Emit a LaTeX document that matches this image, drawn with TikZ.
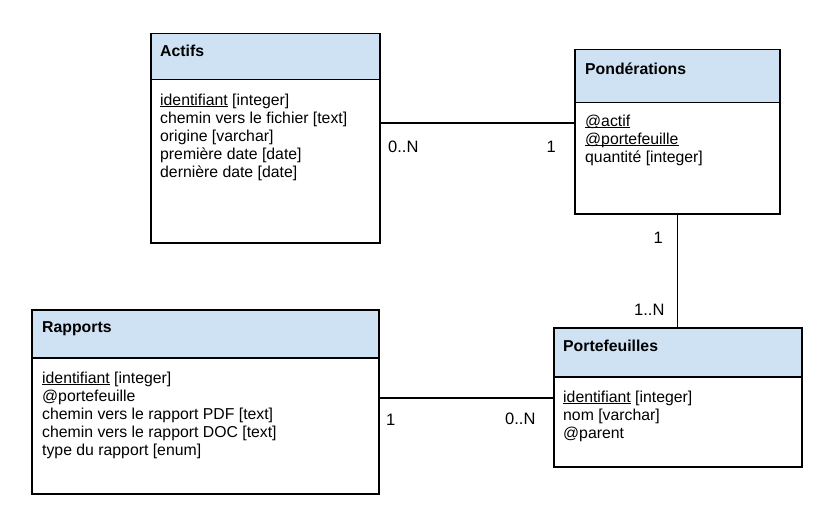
\documentclass[tikz,border=0pt]{standalone}
\usepackage{fontspec}
\setmainfont{Liberation Sans}
\usepackage{xcolor}
\usepackage{tikz}
\usetikzlibrary{positioning}

\definecolor{bleuentete}{HTML}{CFE2F3}
\newcommand{\souligne}[1]{\underline{\raisebox{0pt}[\height][0pt]{#1}}}

\tikzset{
  entete/.style={draw, line width=1.5pt, fill=bleuentete, anchor=north west, inner sep=0pt},
  corps/.style={draw, line width=1.5pt, fill=white, anchor=north west, inner sep=0pt},
  titre/.style={anchor=base west, inner sep=0pt, font=\bfseries\fontsize{15.8}{18}\selectfont},
  attrib/.style={anchor=north west, align=left, inner sep=0pt, font=\fontsize{15.8}{18}\selectfont},
  card/.style={inner sep=0pt, font=\fontsize{16.5}{19}\selectfont},
  lien/.style={line width=1.5pt}
}

\begin{document}
\begin{tikzpicture}[x=1pt, y=-1pt]
  \useasboundingbox (0,0) rectangle (840,524);

  % entity Actifs
  \node[entete, minimum width=229, minimum height=46] (actH) at (150,33) {};
  \node[corps, minimum width=229, minimum height=163] (actB) at (150,79) {};
  \node[titre] (actT) at (160,57) {Actifs};
  \node[attrib] (actA) at (160,93.5) {\souligne{identifiant} [integer]\\
    chemin vers le fichier [text]\\
    origine [varchar]\\
    première date [date]\\
    dernière date [date]};

  % entity Pondérations
  \node[entete, minimum width=205, minimum height=53] (ponH) at (574,49) {};
  \node[corps, minimum width=205, minimum height=111] (ponB) at (574,102) {};
  \node[titre] (ponT) at (585,75) {Pondérations};
  \node[attrib] (ponA) at (585,114.5) {\souligne{@actif}\\
    \souligne{@portefeuille}\\
    quantité [integer]};

  % entity Rapports
  \node[entete, minimum width=347, minimum height=48] (rapH) at (31,309) {};
  \node[corps, minimum width=347, minimum height=136] (rapB) at (31,357) {};
  \node[titre] (rapT) at (42,332) {Rapports};
  \node[attrib] (rapA) at (42,371.5) {\souligne{identifiant} [integer]\\
    @portefeuille\\
    chemin vers le rapport PDF [text]\\
    chemin vers le rapport DOC [text]\\
    type du rapport [enum]};

  % entity Portefeuilles
  \node[entete, minimum width=248, minimum height=49] (porH) at (553,327) {};
  \node[corps, minimum width=248, minimum height=90] (porB) at (553,376) {};
  \node[titre] (porT) at (563,351) {Portefeuilles};
  \node[attrib] (porA) at (563,390.5) {\souligne{identifiant} [integer]\\
    nom [varchar]\\
    @parent};

  % links
  \coordinate (hautY) at (0,123);
  \coordinate (basY) at (0,398);
  \draw[lien] (actB.east |- hautY) -- (ponB.west |- hautY);
  \draw[lien] (ponB.south) -- (ponB.south |- porH.north);
  \draw[lien] (rapB.east |- basY) -- (porB.west |- basY);

  % cardinalities
  \node[card, anchor=base west] (c1) at (388,152) {0..N};
  \node[card, anchor=base east] (c2) at (556,153) {1};
  \node[card, anchor=base east] (c3) at (663,243) {1};
  \node[card, anchor=base west] (c4) at (634,315) {1..N};
  \node[card, anchor=base west] (c5) at (386,425) {1};
  \node[card, anchor=base west] (c6) at (505,424) {0..N};
\end{tikzpicture}
\end{document}
